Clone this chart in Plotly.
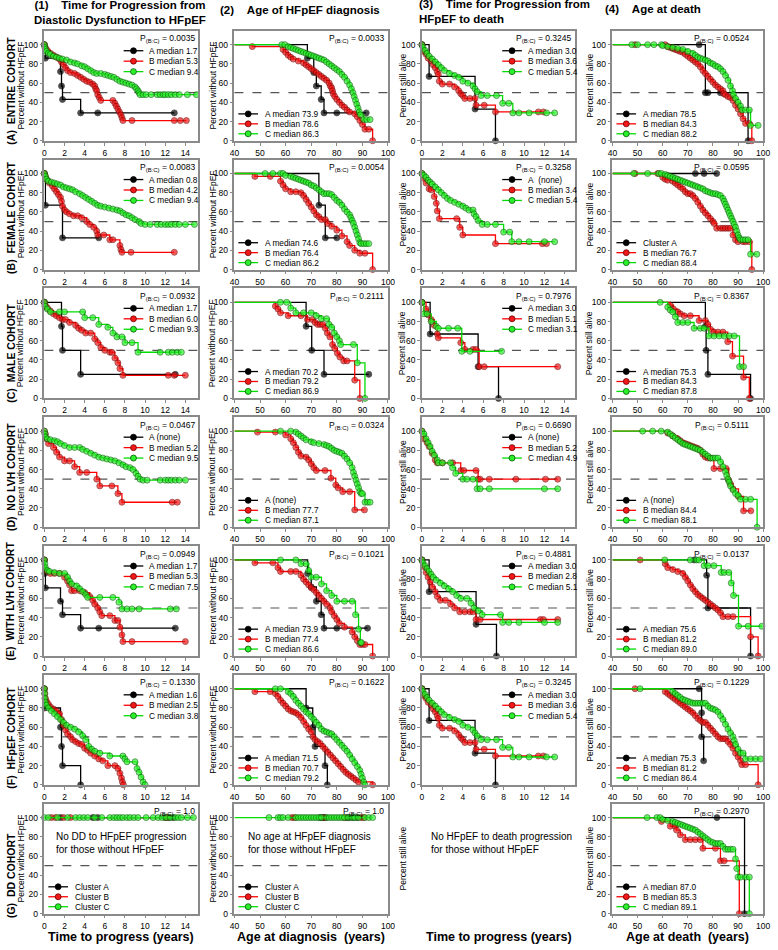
import plotly.graph_objects as go

# ---------------- DATA ----------------
# Each series: list of (x, survival %) points of the Kaplan-Meier step curve.
# Columns: 1 = years DD->HFpEF, 2 = age at HFpEF diagnosis, 3 = years HFpEF->death, 4 = age at death

# Row A: entire cohort
A1_A = [(0,100),(0.1,86),(1.6,72),(1.7,57),(1.8,43),(3.6,29),(5.3,29),(12.9,29)]
A1_B = [(0,100),(0.1,97),(0.3,94),(0.6,91),(0.9,89),(1.2,87),(1.5,85),(1.7,82),(1.9,79),(2.1,76),(2.3,73),(2.6,71),(3.0,70),(3.3,68),(3.6,66),(3.9,64),(4.2,62),(4.5,61),(4.8,59),(5.0,57),(5.1,54),(5.2,52),(5.3,48),(5.45,45),(5.6,42),(6.8,42),(7.0,39),(7.15,36),(7.3,33),(7.45,30),(7.6,27),(7.7,24),(7.8,21),(8.7,21),(12.9,21),(13.5,21),(14.1,21)]
A1_C = [(0,100),(0.05,97),(0.1,95),(0.2,93),(0.4,91),(0.6,90),(0.9,88),(1.2,87),(1.5,86),(1.8,85),(2.2,84),(2.6,82),(3.0,81),(3.3,80),(3.7,78),(4.0,77),(4.3,75),(4.6,73),(4.9,71),(5.2,70),(5.6,70),(6.0,69),(6.3,68),(6.6,67),(6.9,66),(7.2,64),(7.5,62),(7.8,61),(8.1,60),(8.4,59),(8.7,58),(9.0,56),(9.15,54),(9.3,52),(9.4,50),(9.5,48),(9.8,48),(10.1,48),(10.6,48),(11.2,48),(11.5,48),(11.8,48),(12.0,48),(12.3,48),(12.6,48),(13.0,48),(13.4,48),(14.2,48),(15.1,48)]
A2_A = [(40,100),(68.5,86),(71,71),(72,57),(73.9,43),(75,29),(80,29),(91.5,29)]
A2_B = [(40,100),(47,98),(59,95),(60,92),(61,89),(62,87),(63,85),(65,83),(67,81),(68,79),(69,77),(70,75),(71,73),(72,71),(73,69),(74,67),(75,65),(76,63),(77,60),(77.5,57),(78,55),(78.3,52),(78.6,49),(79.2,46),(80,43),(81,40),(82,37),(83,35),(84,32),(85,30),(87,28),(88,25),(89,21),(90,17),(91,12),(92.5,12),(94,0)]
A2_C = [(40,100),(58.5,100),(59.7,100),(61,98),(62,97),(63,96),(64,95),(65,94),(66,93),(67,92),(68,91),(69,90),(70,89),(71,88),(72,87),(73,86),(74,85),(75,84),(76,82),(77,80),(78,78),(79,76),(80,74),(81,72),(82,69),(83,66),(84,62),(85,58),(85.7,54),(86.3,50),(86.8,46),(87.3,42),(87.8,38),(88.3,34),(88.8,30),(89.2,27),(90.5,22),(91.7,22),(93,22)]
A3_A = [(0,100),(0.7,67),(5.2,33),(7.2,0)]
A3_B = [(0,100),(0.2,93),(0.4,90),(0.6,86),(0.9,83),(1.1,79),(1.3,76),(1.5,72),(1.6,69),(1.7,62),(2.0,59),(2.7,59),(3.2,56),(3.6,52),(3.8,49),(4.0,47),(4.2,44),(4.7,44),(5.2,44),(5.3,37),(6.1,37),(7.2,30),(11.4,30),(11.9,30)]
A3_C = [(0,100),(0.1,97),(0.3,94),(0.5,91),(0.7,88),(1.0,85),(1.3,82),(1.6,79),(1.9,76),(2.2,73),(2.7,70),(3.2,68),(3.6,66),(4.0,62),(4.5,60),(5.0,57),(5.2,54),(5.4,51),(5.8,47),(6.4,47),(7.3,47),(7.9,39),(8.5,39),(8.9,29),(9.5,29),(10.5,29),(12.2,29),(13.0,29)]
A4_A = [(40,100),(74.5,100),(77,50),(78,50),(83,50),(94,0)]
A4_B = [(40,100),(49,100),(61,100),(62,98),(63,97),(64,96),(65,95),(66,94),(67,93),(68,92),(69,90),(70,88),(71,86),(72,84),(73,82),(74,80),(75,77),(76,73),(77,70),(78,67),(79,64),(80,61),(81,58),(82,56),(83,54),(84,52),(84.3,49),(85,48),(86,46),(87,45),(88,42),(89,37),(90,33),(91,28),(92,23),(93,18),(94.5,18),(95.5,0)]
A4_C = [(40,100),(47.7,100),(50,100),(54,100),(56.5,100),(59.5,100),(60,99),(62,98),(64,97),(66,96),(68,95),(70,93),(72,91),(73,89),(74,87),(75,86),(76,85),(77,84),(78,83),(79,81),(80,80),(81,78),(82,77),(83,75),(84,72),(85,68),(86,63),(87,57),(87.8,52),(88.2,48),(89,44),(90,40),(91,36),(91.5,32),(93,32),(94.5,32),(95,16),(98,16)]

# Row B: female cohort
B1_A = [(0,100),(0.1,67),(1.8,33),(5.4,33)]
B1_B = [(0,100),(0.1,97),(0.3,93),(0.5,90),(0.8,87),(1.0,84),(1.2,81),(1.4,78),(1.6,75),(1.7,71),(1.8,66),(2.0,62),(2.2,60),(2.5,58),(2.9,56),(3.3,56),(3.7,54),(4.2,50),(4.5,47),(4.9,44),(5.2,40),(5.3,36),(5.9,36),(6.5,31),(6.8,31),(7.5,25),(7.6,21),(7.7,18),(8.6,18),(12.9,18)]
B1_C = [(0,100),(0.1,97),(0.2,94),(0.4,92),(0.7,91),(1.0,90),(1.3,89),(1.6,88),(1.9,86),(2.2,85),(2.5,84),(2.8,83),(3.1,81),(3.5,79),(3.8,77),(4.1,75),(4.4,73),(4.7,71),(5.0,69),(5.3,67),(5.6,66),(6.0,65),(6.4,64),(6.8,63),(7.2,62),(7.5,61),(7.8,59),(8.1,57),(8.4,56),(8.7,54),(9.0,52),(9.4,50),(9.6,48),(10.0,47),(10.5,47),(11.2,47),(11.6,47),(12.0,47),(12.3,47),(12.6,47),(13.0,47),(13.4,47),(14.0,47),(14.9,47)]
B2_A = [(40,100),(73,67),(75.5,33),(80,33)]
B2_B = [(40,100),(48,97),(54,97),(58,92),(59,88),(60,84),(62,81),(64,81),(66,80),(67,77),(68,73),(69,69),(70,65),(71,61),(72,57),(73,55),(74,52),(75.5,52),(76.4,48),(78,45),(80,41),(82,35),(84,29),(85,25),(87,20),(89,17),(91,17),(94,0)]
B2_C = [(40,100),(52,100),(55,100),(58,100),(59,100),(60,98),(62,97),(63,96),(64,95),(65,94),(66,93),(67,92),(68,91),(69,90),(70,88),(71,87),(72,85),(73,83),(74,81),(75,79),(76,79),(77,79),(78,78),(79,75),(80,72),(81,70),(82,67),(83,63),(84,60),(85,57),(85.5,54),(86,51),(86.5,48),(87,44),(87.5,40),(88,36),(88.5,32),(89,28),(89.5,27),(90.5,27),(91.5,27),(92.5,27)]
B3_A = []
B3_B = [(0,100),(0.2,95),(0.4,90),(0.7,84),(0.9,83),(1.2,76),(1.4,69),(1.5,61),(1.7,53),(3.4,53),(3.7,44),(4.0,36),(7.2,27),(11.8,27),(12.2,27)]
B3_C = [(0,100),(0.2,98),(0.4,96),(0.6,93),(0.8,91),(1.0,89),(1.3,86),(1.6,83),(1.9,80),(2.2,77),(2.5,74),(2.8,72),(3.2,70),(3.6,68),(4.0,66),(4.3,64),(4.6,62),(5.0,62),(5.1,58),(5.3,55),(5.5,51),(5.9,47),(6.4,47),(7.2,47),(8.0,39),(8.6,39),(8.8,29),(9.5,29),(10.5,29),(12.0,29),(13.0,29)]
B4_A = [(40,100),(73,100),(76.5,100),(81.5,100)]
B4_B = [(40,100),(49,100),(58,100),(60,96),(61,94),(62,93),(64,92),(65,90),(66,88),(67,86),(68,84),(69,81),(70,79),(71,79),(72,77),(73,74),(74,70),(75,66),(76,62),(77,59),(78,56),(79,53),(80,50),(80.5,48),(81.5,43),(83,43),(84,43),(85,43),(86,43),(87,43),(88,36),(89,31),(90,29),(92,29),(93,29),(94.5,29),(95.5,0)]
B4_C = [(40,100),(48.5,100),(54,100),(58.5,100),(59.5,100),(61,99),(62,98),(63,97),(64,96),(65,95),(66,94),(67,93),(68,92),(69,91),(70,90),(71,89),(72,88),(73,87),(74,86),(75,85),(76,84),(77,82),(78,81),(79,80),(80,79),(81,79),(82,78),(83,77),(84,74),(84.5,71),(85,68),(85.5,65),(86,62),(86.5,59),(87,56),(87.5,53),(88,50),(88.5,47),(89,44),(89.5,40),(90,36),(90.5,33),(91,31),(92,31),(93,31),(94,31),(95,16),(97.5,16)]

# Row C: male cohort
C1_A = [(0,100),(1.7,75),(1.8,50),(3.6,25),(13,25)]
C1_B = [(0,100),(0.1,97),(0.3,94),(0.6,91),(0.9,88),(1.2,86),(1.5,84),(1.8,82),(2.1,82),(2.5,79),(3.1,76),(3.4,73),(3.7,71),(4.1,68),(4.6,68),(5.0,62),(5.3,58),(5.6,53),(6.0,50),(6.5,48),(6.7,48),(7.0,42),(7.3,37),(7.5,31),(7.8,24),(12.3,24),(12.9,24),(14.0,24)]
C1_C = [(0,100),(0.05,96),(0.3,93),(0.6,90),(1.5,90),(2.0,90),(3.8,90),(4.0,84),(4.8,84),(5.4,77),(6.3,74),(6.8,68),(7.2,64),(7.7,64),(8.0,58),(8.7,58),(9.3,48),(11.5,48),(12.3,48),(12.7,48),(13.2,48),(13.6,48)]
C2_A = [(40,100),(68,75),(70.2,50),(75,25),(92.5,25)]
C2_B = [(40,100),(56,96),(57,93),(58,89),(61,86),(66,86),(68.5,82),(70.5,82),(71.5,79),(72.5,77),(73.5,77),(74.5,77),(75.5,73),(76.3,68),(77.3,64),(78.3,56),(79.2,52),(80.2,47),(81.2,43),(82.7,39),(84,39),(87,19),(89,0)]
C2_C = [(40,100),(58,100),(60.4,100),(62,94),(64,89),(67,89),(70,89),(72,86),(74,83),(76,83),(77,77),(78,74),(79,68),(80,64),(81,60),(81.5,56),(86.5,56),(88,37),(91,0)]
C3_A = [(0,100),(0.8,67),(5.5,33),(7.5,0)]
C3_B = [(0,100),(0.4,93),(0.6,87),(0.9,82),(1.2,76),(1.5,67),(1.6,63),(3.8,58),(4.2,51),(5.0,51),(5.3,51),(5.6,33),(6.1,33),(13.3,33)]
C3_C = [(0,100),(0.2,88),(0.5,88),(0.9,80),(1.4,75),(1.6,73),(2.6,73),(3.5,73),(3.9,49),(4.7,49),(7.8,49)]
C4_A = [(40,100),(77,75),(77.3,50),(78,25),(95,0)]
C4_B = [(40,100),(63,97),(64.3,93),(66,90),(67,88),(68.6,86),(71,86),(74.5,81),(77,81),(78,77),(79,72),(80.4,69),(82,69),(84,69),(85.9,59),(87.8,44),(92.2,22),(94.5,0)]
C4_C = [(40,100),(59,100),(62,95),(63,92),(64,90),(65,85),(66,79),(68,79),(70,79),(72.5,73),(75,73),(76.5,73),(78.4,65),(80.4,65),(82.5,65),(84.5,65),(86.5,65),(88.5,65),(90.6,33),(92.2,33)]

# Row D: no LVH cohort
D1_A = []
D1_B = [(0,100),(0.1,97),(0.2,92),(0.4,87),(0.9,83),(1.2,78),(1.5,73),(2.0,69),(2.5,69),(3.0,63),(3.5,57),(4.2,57),(5.2,50),(5.5,43),(6.7,43),(7.3,35),(7.7,26),(12.7,26),(13.2,26)]
D1_C = [(0,100),(0.05,97),(0.1,94),(0.3,92),(0.6,91),(1.0,90),(1.3,89),(1.6,87),(2.0,85),(2.5,83),(3.0,83),(3.5,83),(3.8,81),(4.2,79),(4.6,77),(5.0,75),(5.4,73),(5.8,72),(6.2,71),(6.6,70),(7.0,69),(7.4,67),(7.8,65),(8.1,63),(8.5,62),(8.8,60),(9.1,56),(9.3,53),(9.5,50),(9.8,49),(10.2,49),(11.5,49),(12.0,49),(12.3,49),(12.6,49),(13.0,49),(13.4,49),(14.0,49)]
D2_A = []
D2_B = [(40,100),(49,99),(56,99),(60,96),(62,92),(63,88),(64,83),(65,78),(66,74),(68,73),(69,70),(70,66),(71,62),(72,59),(75.4,59),(77.7,51),(79.6,44),(80.5,41),(82.3,37),(85,37),(87,18),(90.8,18)]
D2_C = [(40,100),(58,100),(62,100),(64,99),(65,97),(66,95),(67,93),(68,91),(70,89),(71,88),(73,87),(75,86),(76,85),(77,84),(78,82),(79,80),(80,79),(81,78),(82,77),(83,74),(84,71),(85,67),(86,62),(86.5,57),(87,53),(87.5,49),(88,45),(88.5,41),(89,37),(89.5,35),(90,35),(91,26),(92,26),(93,26)]
D3_A = []
D3_B = [(0,100),(0.2,92),(0.5,88),(0.7,84),(1.0,77),(1.3,70),(1.5,67),(2.0,67),(3.0,67),(3.8,59),(4.1,59),(5.3,59),(5.5,50),(5.7,50),(6.6,50),(9.2,50),(12.1,50),(13.3,50)]
D3_C = [(0,100),(0.2,97),(0.4,92),(0.6,88),(0.8,84),(1.0,79),(1.2,75),(1.5,70),(1.6,67),(2.0,67),(2.8,67),(3.0,62),(3.3,56),(4.0,50),(4.4,50),(5.0,50),(5.4,40),(5.7,40),(6.6,40),(12.0,40),(13.3,40)]
D4_A = []
D4_B = [(40,100),(62,98),(64,95),(66,92),(67,90),(68,88),(69,87),(70,86),(71,85),(72,84),(73,83),(74,82),(75,80),(76,76),(77,73),(78,72),(79,72),(80.4,61),(83,61),(85.3,61),(86.3,49),(87,45),(88,40),(90.2,32),(92.2,17),(95.1,17)]
D4_C = [(40,100),(52,100),(56,100),(59.4,100),(62,99),(63,97),(64,95),(65,93),(66,91),(67,89),(68,87),(69,86),(70,85),(71,84),(72,83),(73,82),(74,81),(75,80),(76,78),(77,76),(78,74),(79,72),(80,72),(81,72),(82,72),(83,68),(84,63),(85,58),(85.5,54),(86,50),(86.5,47),(87,43),(88,39),(89,35),(90,33),(91,29),(93,29),(95,29),(97.6,0)]

# Row E: with LVH cohort
E1_A = [(0,100),(0.05,86),(0.1,71),(1.6,57),(1.8,43),(3.6,29),(5.4,29),(13,29)]
E1_B = [(0,100),(0.1,90),(0.3,88),(0.6,86),(1.0,86),(1.5,86),(2.0,82),(2.3,78),(2.5,74),(2.7,68),(3.0,68),(3.5,68),(4.0,66),(4.5,62),(4.8,58),(5.0,54),(5.3,50),(5.5,46),(5.7,42),(6.5,42),(7.0,37),(7.3,37),(7.5,30),(7.7,22),(7.8,15),(8.7,15),(14.0,15)]
E1_C = [(0,100),(0.05,96),(0.1,92),(0.3,89),(0.5,88),(1.0,87),(1.5,86),(2.0,86),(2.3,82),(2.5,78),(2.7,75),(3.2,73),(3.5,70),(3.8,67),(4.1,64),(4.3,61),(5.5,61),(6.8,61),(7.4,56),(7.7,49),(8.2,49),(8.7,49),(9.4,49),(12.5,49),(13.1,49)]
E2_A = [(40,100),(68.6,86),(70,72),(72,57),(73.9,43),(75,29),(80,29),(92,29)]
E2_B = [(40,100),(48,97),(55,97),(57,92),(58,88),(62,88),(64,88),(66,84),(67,80),(68,77),(69,74),(70,71),(71,69),(72,66),(73,63),(74,60),(75,57),(76,54),(77.4,50),(78,46),(79,42),(80,38),(81,34),(83,30),(86,25),(87,20),(88,16),(89,12),(90,12),(91,12),(94,0)]
E2_C = [(40,100),(58,100),(64,100),(66,96),(68,96),(69,89),(70,82),(72,82),(74,75),(76,68),(78,63),(80,57),(83,57),(86,57),(87.3,43),(88.5,28),(89.2,14),(89.6,14)]
E3_A = [(0,100),(0.7,67),(5.3,33),(7.3,0)]
E3_B = [(0,100),(0.2,93),(0.4,87),(0.6,82),(0.8,77),(1.0,72),(1.3,67),(1.5,62),(1.8,58),(2.3,58),(2.8,54),(3.2,50),(3.7,46),(4.2,46),(4.7,46),(5.0,46),(5.3,38),(5.7,38),(11.6,38),(11.9,38),(13.3,38)]
E3_C = [(0,100),(0.1,97),(0.3,94),(0.5,91),(0.7,88),(0.9,85),(1.1,82),(1.4,79),(1.8,76),(2.2,73),(2.6,70),(3.0,67),(3.4,63),(3.8,60),(4.4,60),(4.8,55),(5.1,50),(5.5,47),(5.9,43),(7.7,43),(7.9,35),(8.5,35),(9.5,35),(12.0,35),(13.3,35)]
E4_A = [(40,100),(72.5,100),(77.5,84),(78,50),(95,0)]
E4_B = [(40,100),(51,100),(61,96),(62,92),(64,90),(66,88),(68,86),(69,82),(70,78),(71,74),(72,70),(73,67),(74,64),(75,62),(76,60),(77,58),(78,56),(79,54),(80,52),(81,50),(82,48),(83,45),(84,41),(86,41),(88,41),(95,20),(98,0)]
E4_C = [(40,100),(60.8,100),(71,100),(73.5,100),(74.5,100),(76.5,94),(78,94),(80.4,94),(83.3,87),(84.5,87),(86.3,87),(87.3,76),(88.2,63),(90.2,31),(94,31),(99.5,31)]

# Row F: HFpEF cohort
F1_A = [(0,100),(0.05,80),(1.6,60),(1.7,40),(1.8,20),(3.6,0)]
F1_B = [(0,100),(0.05,95),(0.1,90),(0.2,87),(0.4,84),(0.6,81),(0.9,79),(1.2,77),(1.5,74),(1.7,68),(1.9,62),(2.1,57),(2.3,53),(2.6,50),(2.8,47),(3.1,45),(3.4,43),(3.7,42),(4.0,38),(4.3,36),(4.6,33),(5.0,30),(5.4,27),(5.8,25),(6.3,20),(7.0,20),(7.3,17),(7.5,12),(7.65,7),(7.75,3),(7.85,0)]
F1_C = [(0,100),(0.02,95),(0.05,90),(0.1,86),(0.2,83),(0.4,80),(0.7,77),(1.0,74),(1.3,71),(1.6,68),(1.9,65),(2.2,62),(2.6,60),(3.0,58),(3.4,55),(3.8,51),(4.1,47),(4.4,40),(4.7,37),(5.0,35),(5.5,33),(6.5,30),(7.8,30),(8.0,27),(8.2,24),(9.0,24),(9.2,17),(9.4,13),(9.6,8),(9.8,3),(10.0,0)]
F2_A = [(40,100),(68,80),(70.6,60),(71.5,40),(75.4,20),(76.3,0)]
F2_B = [(40,100),(48,97),(54,97),(56,95),(57,92),(58,88),(59,85),(60,82),(61,79),(62,77),(63,76),(64,75),(65,73),(66,70),(67,66),(68,62),(69,58),(70,55),(70.7,50),(71.5,47),(72.5,45),(73.5,43),(74.5,40),(75.5,37),(76.5,34),(77.5,31),(78.5,28),(79.5,25),(80.5,22),(81.5,19),(82.5,16),(83.5,13),(84.5,11),(85.5,9),(86.5,7),(87.5,5),(88.5,3),(94,0)]
F2_C = [(40,100),(56,100),(58,100),(61,97),(62,95),(63,92),(64,88),(65,85),(66,82),(67,79),(68,76),(69,74),(70,71),(71,68),(72,65),(73,62),(74,58),(75,56),(76,55),(77,54),(78,53),(79,50),(80,47),(81,44),(82,41),(83,38),(84,35),(85,31),(86,27),(87,23),(88,19),(89,15),(89.5,11),(90,7),(90.5,3),(91,0)]
F3_A = A3_A
F3_B = A3_B
F3_C = A3_C
F4_A = [(40,100),(74.5,100),(75.5,75),(75.5,50),(76.3,25)]
F4_B = [(40,100),(49,100),(61,97),(62,95),(63,93),(64,91),(65,89),(66,87),(67,85),(68,83),(69,81),(70,79),(71,77),(72,75),(73,72),(74,69),(75,67),(76,65),(77,65),(78,62),(79,59),(80,56),(81,53),(82,50),(83,48),(84,48),(85,48),(86,45),(87,42),(88,38),(89,33),(90,29),(91,25),(91.5,21),(93,21),(98,0)]
F4_C = [(40,100),(51,100),(64,97),(65,95),(66,93),(67,91),(68,89),(69,88),(70,87),(71,86),(72,85),(73,85),(74,85),(75,85),(76,85),(77,85),(78,82),(79,80),(80,79),(81,78),(82,76),(83,72),(84,68),(85,63),(86,58),(87,54),(88,50),(88.5,46),(89,42),(90,37),(91,33),(92,33),(93,27),(95,27),(97,27),(99,27)]

# Row G: DD cohort (no HFpEF)
G1_A = [(1.6,100),(4.8,100),(5.3,100),(12.0,100),(12.4,100),(12.8,100)]
G1_B = [(0.7,100),(1.1,100),(1.9,100),(2.6,100),(12.2,100)]
G1_C = [(0,100),(0.4,100),(1.3,100),(2.3,100),(3.1,100),(3.5,100),(3.9,100),(4.3,100),(5.0,100),(5.7,100),(6.5,100),(6.9,100),(7.2,100),(7.5,100),(7.8,100),(8.2,100),(8.5,100),(8.9,100),(9.3,100),(10.1,100),(10.8,100),(11.3,100),(11.7,100),(12.1,100),(12.5,100),(13.0,100),(13.3,100),(13.6,100),(14.2,100),(14.8,100)]
G2_A = [(73.5,100),(74.5,100),(75.5,100),(84,100),(85,100),(86.5,100),(88,100)]
G2_B = [(62.5,100),(63.5,100),(75,100),(83,100),(89.5,100),(90.5,100)]
G2_C = [(40,100),(53.5,100),(57,100),(58,100),(59,100),(61,100),(64,100),(65,100),(66,100),(67,100),(68,100),(69,100),(70,100),(71,100),(72,100),(73,100),(74,100),(76,100),(77,100),(78,100),(79,100),(80,100),(81,100),(82,100),(83,100),(84.5,100),(86,100),(87,100),(88.5,100),(91,100),(92.5,100),(94,100)]
G3_A = []
G3_B = []
G3_C = []
G4_A = [(40,100),(81.6,100),(92.6,0)]
G4_B = [(40,100),(59.5,96),(63,91),(65,91),(65.5,87),(67,82),(69,77),(71,77),(73,77),(75,77),(76,68),(81,68),(83,55),(84.5,55),(90.5,0)]
G4_C = [(40,100),(53.8,100),(57.7,100),(59,100),(60,98),(62,97),(64,96),(65,95),(66,94),(67,93),(68,92),(69,91),(70,90),(71,89),(72,88),(73,87),(74,85),(75,83),(76,81),(77,79),(78,77),(79,75),(80,74),(81,73),(82,73),(83,73),(84,70),(85,67),(86,67),(87,67),(88,67),(89,57),(89.5,47),(90,38),(91,38),(93,38),(94.5,38),(94.5,0)]

ROW_LABELS = ["(A)  ENTIRE COHORT", "(B)  FEMALE COHORT", "(C)  MALE COHORT",
              "(D)  NO LVH COHORT", "(E)  WITH LVH COHORT", "(F)  HFpEF COHORT", "(G)  DD COHORT"]
COL_TITLES = ["(1)\u00a0\u00a0\u00a0\u00a0Time for Progression from<br>Diastolic Dysfunction to HFpEF",
              "(2)\u00a0\u00a0\u00a0\u00a0Age of HFpEF diagnosis",
              "(3)\u00a0\u00a0\u00a0\u00a0Time for Progression from<br>HFpEF to death",
              "(4)\u00a0\u00a0\u00a0\u00a0Age at death"]
X_TITLES = ["Time to progress (years)", "Age at diagnosis\u00a0\u00a0(years)",
            "Time to progress (years)", "Age at death\u00a0\u00a0(years)"]
Y_TITLES = ["Percent without HFpEF", "Percent without HFpEF", "Percent still alive", "Percent still alive"]

P_A = ["0.0035", "0.0033", "0.3245", "0.0524"]
P_B = ["0.0083", "0.0054", "0.3258", "0.0595"]
P_C = ["0.0932", "0.2111", "0.7976", "0.8367"]
P_D = ["0.0467", "0.0324", "0.6690", "0.5111"]
P_E = ["0.0949", "0.1021", "0.4881", "0.0137"]
P_F = ["0.1330", "0.1622", "0.3245", "0.1229"]
P_G = ["1.0", "1.0", None, "0.2970"]

LEG_A = [["A median 1.7", "B median 5.3", "C median 9.4"], ["A median 73.9", "B median 78.6", "C median 86.3"],
         ["A median 3.0", "B median 3.6", "C median 5.4"], ["A median 78.5", "B median 84.3", "C median 88.2"]]
LEG_B = [["A median 0.8", "B median 4.2", "C median 9.4"], ["A median 74.6", "B median 76.4", "C median 86.2"],
         ["A\u00a0\u00a0(none)", "B median 3.4", "C median 5.4"], ["Cluster A", "B median 76.7", "C median 88.4"]]
LEG_C = [["A median 1.7", "B median 6.0", "C median 9.3"], ["A median 70.2", "B median 79.2", "C median 86.9"],
         ["A median 3.0", "B median 5.1", "C median 3.1"], ["A median 75.3", "B median 84.3", "C median 87.8"]]
LEG_D = [["A (none)", "B median 5.2", "C median 9.5"], ["A (none)", "B median 77.7", "C median 87.1"],
         ["A (none)", "B median 5.2", "C median 4.9"], ["A (none)", "B median 84.4", "C median 88.1"]]
LEG_E = [["A median 1.7", "B median 5.3", "C median 7.5"], ["A median 73.9", "B median 77.4", "C median 86.6"],
         ["A median 3.0", "B median 2.8", "C median 5.1"], ["A median 75.6", "B median 81.2", "C median 89.0"]]
LEG_F = [["A median 1.6", "B median 2.5", "C median 3.8"], ["A median 71.5", "B median 70.7", "C median 79.2"],
         ["A median 3.0", "B median 3.6", "C median 5.4"], ["A median 75.3", "B median 81.2", "C median 86.4"]]
LEG_G = [["Cluster A", "Cluster B", "Cluster C"], ["Cluster A", "Cluster B", "Cluster C"],
         None, ["A median 87.0", "B median 85.3", "C median 89.1"]]
NOTES_G = ["No DD to HFpEF progression<br>for those without HFpEF",
           "No age at HFpEF diagnosis<br>for those without HFpEF",
           "No HFpEF to death progression<br>for those without HFpEF", None]

SERIES = [
    [(A1_A, A1_B, A1_C), (A2_A, A2_B, A2_C), (A3_A, A3_B, A3_C), (A4_A, A4_B, A4_C)],
    [(B1_A, B1_B, B1_C), (B2_A, B2_B, B2_C), (B3_A, B3_B, B3_C), (B4_A, B4_B, B4_C)],
    [(C1_A, C1_B, C1_C), (C2_A, C2_B, C2_C), (C3_A, C3_B, C3_C), (C4_A, C4_B, C4_C)],
    [(D1_A, D1_B, D1_C), (D2_A, D2_B, D2_C), (D3_A, D3_B, D3_C), (D4_A, D4_B, D4_C)],
    [(E1_A, E1_B, E1_C), (E2_A, E2_B, E2_C), (E3_A, E3_B, E3_C), (E4_A, E4_B, E4_C)],
    [(F1_A, F1_B, F1_C), (F2_A, F2_B, F2_C), (F3_A, F3_B, F3_C), (F4_A, F4_B, F4_C)],
    [(G1_A, G1_B, G1_C), (G2_A, G2_B, G2_C), (G3_A, G3_B, G3_C), (G4_A, G4_B, G4_C)],
]
P_ROWS = [P_A, P_B, P_C, P_D, P_E, P_F, P_G]
LEG_ROWS = [LEG_A, LEG_B, LEG_C, LEG_D, LEG_E, LEG_F, LEG_G]

# ---------------- LAYOUT / STYLE ----------------
W, H = 778, 950
FONT = "Arial, 'Liberation Sans', sans-serif"
COL_L = [40, 233, 423.5, 617]
COL_R = [196.5, 389, 579, 770]
ROW_T = [31 + 129.5 * i for i in range(7)]
ROW_H = 110.5
X_RANGES = [[0, 15.3], [40, 100], [0, 15.0], [40, 100]]
X_TICKS = [list(range(0, 15, 2)), list(range(40, 101, 10)), list(range(0, 15, 2)), list(range(40, 101, 10))]
Y_RANGE = [0, 114.4]
STYLE = {
    'A': dict(line='#000000', fill='#000000', edge='#000000'),
    'B': dict(line='#ff0000', fill='#f01818', edge='#700000'),
    'C': dict(line='#00dd00', fill='#2cf02c', edge='#005a00'),
}
AXIS_GREY = '#8a8a8a'
MARKER_SIZE = 6


def px(x):
    return x / W


def py(y):
    return 1 - y / H


fig = go.Figure()
shapes, annotations = [], []
layout_axes = {}

for r in range(7):
    T = ROW_T[r]
    B = T + ROW_H
    for c in range(4):
        n = r * 4 + c + 1
        xa = 'x' if n == 1 else f'x{n}'
        ya = 'y' if n == 1 else f'y{n}'
        L, R = COL_L[c], COL_R[c]
        layout_axes['xaxis' if n == 1 else f'xaxis{n}'] = dict(
            domain=[px(L), px(R)], anchor=ya, range=X_RANGES[c], tickvals=X_TICKS[c],
            showline=True, mirror=True, linecolor=AXIS_GREY, linewidth=1.5,
            ticks='outside', ticklen=3, tickcolor=AXIS_GREY, tickwidth=1,
            showgrid=False, zeroline=False, fixedrange=True,
            tickfont=dict(family=FONT, size=8.5, color='#000'))
        layout_axes['yaxis' if n == 1 else f'yaxis{n}'] = dict(
            domain=[py(B), py(T)], anchor=xa, range=Y_RANGE, tickvals=[0, 20, 40, 60, 80, 100],
            showline=True, mirror=True, linecolor=AXIS_GREY, linewidth=1.5,
            ticks='outside', ticklen=3, tickcolor=AXIS_GREY, tickwidth=1,
            showgrid=False, zeroline=False, fixedrange=True,
            tickfont=dict(family=FONT, size=8.5, color='#000'))

        # curves (black first, green on top)
        for key, pts in zip('ABC', SERIES[r][c]):
            if not pts:
                continue
            xs = [p[0] for p in pts]
            ys = [p[1] for p in pts]
            sizes = [0 if (i == 0 and x == 40) else MARKER_SIZE for i, x in enumerate(xs)]
            st = STYLE[key]
            fig.add_trace(go.Scatter(
                x=xs, y=ys, xaxis=xa, yaxis=ya, mode='lines+markers',
                line=dict(shape='hv', color=st['line'], width=1.3),
                marker=dict(size=sizes, color=st['fill'], line=dict(color=st['edge'], width=0.8)),
                showlegend=False, hoverinfo='skip', cliponaxis=False))

        # dashed median line
        if not (r == 6 and c == 2):
            shapes.append(dict(type='line', xref=f'{xa} domain', yref=ya, x0=0, x1=1, y0=50, y1=50,
                               line=dict(color='#555555', width=1.2, dash='dash'), layer='below'))

        # p-value
        pv = P_ROWS[r][c]
        if pv is not None:
            xr = R - 12 if c == 3 else R - 2
            annotations.append(dict(xref='paper', yref='paper', x=px(xr), y=py(T + 0.5),
                                    xanchor='right', yanchor='top', showarrow=False,
                                    text=f'P<sub>(B:C)</sub> = {pv}',
                                    font=dict(family=FONT, size=8.5, color='#000')))

        # legend (drawn by hand to keep it compact)
        labels = LEG_ROWS[r][c]
        if labels is not None:
            top_right = (c in (0, 2)) and r < 6
            if top_right:
                off = 76 if c == 0 else 74
                lx0, lx1, tx = R - off, R - off + 20, R - off + 24
                ys_leg = [T + 20, T + 30.5, T + 41]
            else:
                lx0, lx1, tx = L + 4, L + 24, L + 29
                ys_leg = [B - 27, B - 17, B - 7]
            for key, lab, yy in zip('ABC', labels, ys_leg):
                st = STYLE[key]
                shapes.append(dict(type='line', xref='paper', yref='paper', x0=px(lx0), x1=px(lx1),
                                   y0=py(yy), y1=py(yy), line=dict(color=st['line'], width=1.3)))
                cx = (lx0 + lx1) / 2
                rad = MARKER_SIZE / 2
                shapes.append(dict(type='circle', xref='paper', yref='paper',
                                   x0=px(cx - rad), x1=px(cx + rad), y0=py(yy + rad), y1=py(yy - rad),
                                   fillcolor=st['fill'], line=dict(color=st['edge'], width=0.8)))
                annotations.append(dict(xref='paper', yref='paper', x=px(tx), y=py(yy),
                                        xanchor='left', yanchor='middle', showarrow=False, text=lab,
                                        font=dict(family=FONT, size=8.3, color='#000')))

        # y axis title
        ytx = [16, 211, 404, 594][c]
        annotations.append(dict(xref='paper', yref='paper', x=px(ytx), y=py(T + ROW_H / 2),
                                xanchor='center', yanchor='middle', textangle=-90, showarrow=False,
                                text=Y_TITLES[c], font=dict(family=FONT, size=8.5, color='#000')))

        # notes for DD cohort
        if r == 6 and NOTES_G[c] is not None:
            annotations.append(dict(xref='paper', yref='paper', x=px(L + [10, 12, 7][c]), y=py(T + 39),
                                    xanchor='left', yanchor='middle', align='left', showarrow=False,
                                    text=NOTES_G[c], font=dict(family=FONT, size=10, color='#000')))

    # row label
    annotations.append(dict(xref='paper', yref='paper', x=px(6), y=py(B + 6),
                            xanchor='center', yanchor='bottom', textangle=-90, showarrow=False,
                            text=f'<b>{ROW_LABELS[r]}</b>', font=dict(family=FONT, size=10.5, color='#000')))

# column titles
title_pos = [(117, 13, 'center'), (300, 10, 'center'), (418, 12, 'left'), (607, 9, 'left')]
for c in range(4):
    x, y, al = title_pos[c]
    annotations.append(dict(xref='paper', yref='paper', x=px(x), y=py(y),
                            xanchor='center' if al == 'center' else 'left', yanchor='middle',
                            align=al, showarrow=False, text=f'<b>{COL_TITLES[c]}</b>',
                            font=dict(family=FONT, size=11.5, color='#000')))

# bottom x-axis titles
for c in range(4):
    cx = (COL_L[c] + COL_R[c]) / 2
    annotations.append(dict(xref='paper', yref='paper', x=px(cx), y=py(942),
                            xanchor='center', yanchor='middle', showarrow=False,
                            text=f'<b>{X_TITLES[c]}</b>', font=dict(family=FONT, size=12.5, color='#000')))

fig.update_layout(width=W, height=H, margin=dict(l=0, r=0, t=0, b=0),
                  paper_bgcolor='white', plot_bgcolor='white', showlegend=False,
                  shapes=shapes, annotations=annotations, **layout_axes)

fig.write_html("out.html", config={'displayModeBar': False},
               post_script="document.body.style.margin='0px';document.body.style.padding='0px';")
